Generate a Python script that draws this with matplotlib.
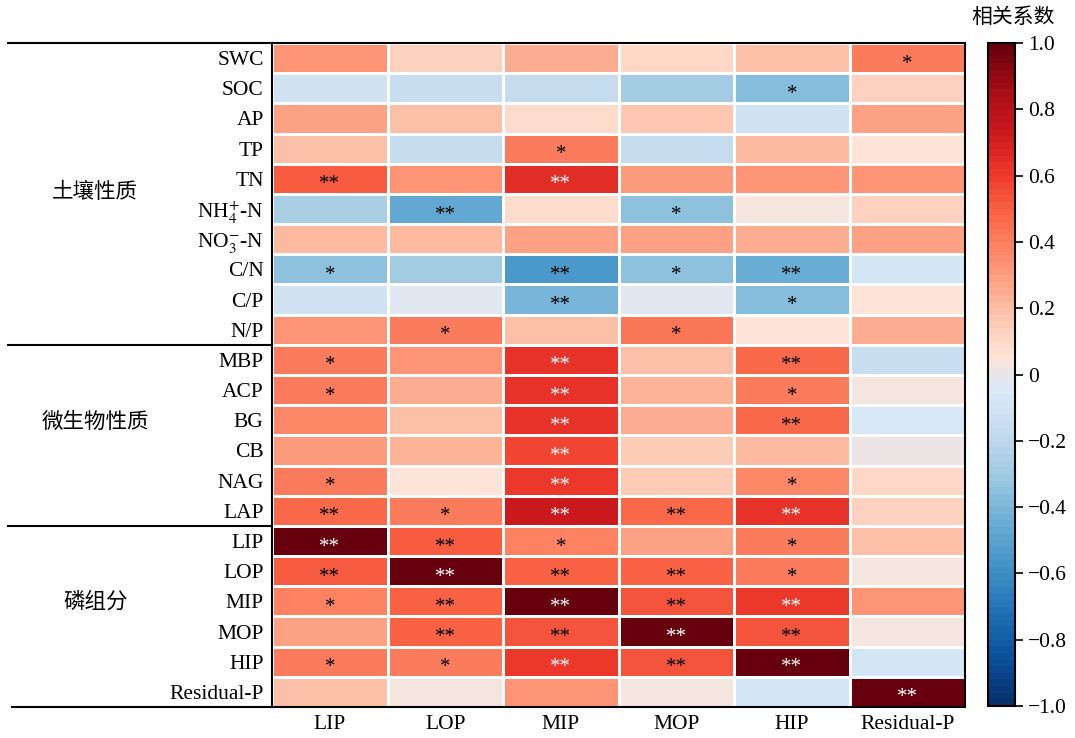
import numpy as np
import matplotlib
matplotlib.use("Agg")
import matplotlib.pyplot as plt
from matplotlib.colors import LinearSegmentedColormap
import matplotlib.transforms as mtransforms

plt.rcParams["font.family"] = ["Liberation Serif", "Noto Sans CJK SC"]
plt.rcParams["mathtext.fontset"] = "stix"

# row / column names
row_labels = ["SWC", "SOC", "AP", "TP", "TN", r"NH$_4^{+}$-N", r"NO$_3^{-}$-N",
              "C/N", "C/P", "N/P",
              "MBP", "ACP", "BG", "CB", "NAG", "LAP",
              "LIP", "LOP", "MIP", "MOP", "HIP", "Residual-P"]
col_labels = ["LIP", "LOP", "MIP", "MOP", "HIP", "Residual-P"]

# groups of rows: (name, first row, last row)
groups = [("土壤性质", 0, 9), ("微生物性质", 10, 15), ("磷组分", 16, 21)]

# correlation coefficients, rows x columns
corr = np.array([
    [0.32, 0.12, 0.25, 0.10, 0.18, 0.40],
    [-0.12, -0.15, -0.17, -0.30, -0.38, 0.12],
    [0.28, 0.18, 0.08, 0.17, -0.12, 0.28],
    [0.18, -0.17, 0.40, -0.18, 0.20, 0.05],
    [0.50, 0.32, 0.65, 0.30, 0.33, 0.32],
    [-0.27, -0.48, 0.08, -0.35, 0.02, 0.12],
    [0.20, 0.20, 0.28, 0.28, 0.25, 0.28],
    [-0.36, -0.29, -0.55, -0.36, -0.45, -0.10],
    [-0.11, -0.03, -0.42, -0.03, -0.38, 0.05],
    [0.33, 0.40, 0.18, 0.42, 0.05, 0.24],
    [0.40, 0.33, 0.63, 0.18, 0.47, -0.16],
    [0.40, 0.25, 0.63, 0.22, 0.40, 0.02],
    [0.36, 0.18, 0.62, 0.25, 0.47, -0.08],
    [0.31, 0.22, 0.57, 0.15, 0.20, 0.00],
    [0.40, 0.05, 0.61, 0.16, 0.37, 0.10],
    [0.47, 0.40, 0.73, 0.47, 0.63, 0.13],
    [1.00, 0.50, 0.38, 0.29, 0.40, 0.19],
    [0.50, 1.00, 0.48, 0.48, 0.40, 0.03],
    [0.38, 0.48, 1.00, 0.52, 0.60, 0.33],
    [0.29, 0.48, 0.52, 1.00, 0.52, 0.02],
    [0.40, 0.40, 0.60, 0.52, 1.00, -0.10],
    [0.19, 0.03, 0.33, 0.02, -0.10, 1.00],
])

# significance marks
sig = [
    ["", "", "", "", "", "*"],
    ["", "", "", "", "*", ""],
    ["", "", "", "", "", ""],
    ["", "", "*", "", "", ""],
    ["**", "", "**", "", "", ""],
    ["", "**", "", "*", "", ""],
    ["", "", "", "", "", ""],
    ["*", "", "**", "*", "**", ""],
    ["", "", "**", "", "*", ""],
    ["", "*", "", "*", "", ""],
    ["*", "", "**", "", "**", ""],
    ["*", "", "**", "", "*", ""],
    ["", "", "**", "", "**", ""],
    ["", "", "**", "", "", ""],
    ["*", "", "**", "", "*", ""],
    ["**", "*", "**", "**", "**", ""],
    ["**", "**", "*", "", "*", ""],
    ["**", "**", "**", "**", "*", ""],
    ["*", "**", "**", "**", "**", ""],
    ["", "**", "**", "**", "**", ""],
    ["*", "*", "**", "**", "**", ""],
    ["", "", "", "", "", "**"],
]

# blue - grey - red colour scale
blues = plt.get_cmap("Blues")(np.linspace(1.0, 0.14, 20))
reds = plt.get_cmap("Reds")(np.linspace(0.1, 1.0, 20))
mid = np.array([[0.91, 0.9, 0.91, 1.0]])
cmap = LinearSegmentedColormap.from_list("bgr", np.vstack([blues, mid, reds]), N=100)

fig = plt.figure(figsize=(10.75, 7.38), dpi=100)
ax = fig.add_axes([272 / 1075, 31 / 738, 693 / 1075, 664 / 738])
cax = fig.add_axes([988 / 1075, 32 / 738, 27 / 1075, 663 / 738])

nrow, ncol = corr.shape
mesh = ax.pcolormesh(np.arange(ncol + 1), np.arange(nrow + 1), corr, cmap=cmap,
                     vmin=-1, vmax=1, edgecolors="white", linewidth=1.0)
ax.set_xlim(0, ncol)
ax.set_ylim(nrow, 0)

for i in range(nrow):
    for j in range(ncol):
        if sig[i][j]:
            color = "white" if corr[i, j] > 0.55 else "black"
            ax.text(j + 0.5, i + 0.7, sig[i][j], ha="center", va="center",
                    fontsize=15, color=color)

ax.set_xticks(np.arange(ncol) + 0.5)
ax.set_xticklabels(col_labels, fontsize=15.5)
ax.set_yticks(np.arange(nrow) + 0.5)
ax.set_yticklabels(row_labels, fontsize=15.5)
ax.tick_params(length=0, pad=6)
for s in ax.spines.values():
    s.set_linewidth(1.5)

# group separators and group names on the left (names sit a little above centre)
trans = mtransforms.blended_transform_factory(ax.transAxes, ax.transData)
label_rows = [4.95, 12.55, 18.5]
for (name, r0, r1), ly in zip(groups, label_rows):
    ax.plot([-0.381, 0], [r0, r0], color="black", lw=1.5, transform=trans, clip_on=False)
    ax.text(-0.255, ly, name, transform=trans, ha="center", va="center",
            fontsize=15.5, family="Noto Sans CJK SC")
ax.plot([-0.375, 0], [nrow, nrow], color="black", lw=1.5, transform=trans, clip_on=False)

cb = fig.colorbar(mesh, cax=cax)
cb.set_ticks(np.linspace(-1, 1, 11))
cb.set_ticklabels(["\u22121.0", "\u22120.8", "\u22120.6", "\u22120.4", "\u22120.2", "0",
                   "0.2", "0.4", "0.6", "0.8", "1.0"])
cb.ax.tick_params(labelsize=15.5, length=6, width=1.2)
cb.outline.set_linewidth(1.5)
fig.text(1013 / 1075, 1 - 17 / 738, "相关系数", ha="center", va="center",
         fontsize=15, family="Noto Sans CJK SC")

fig.savefig("out.png", dpi=100)
